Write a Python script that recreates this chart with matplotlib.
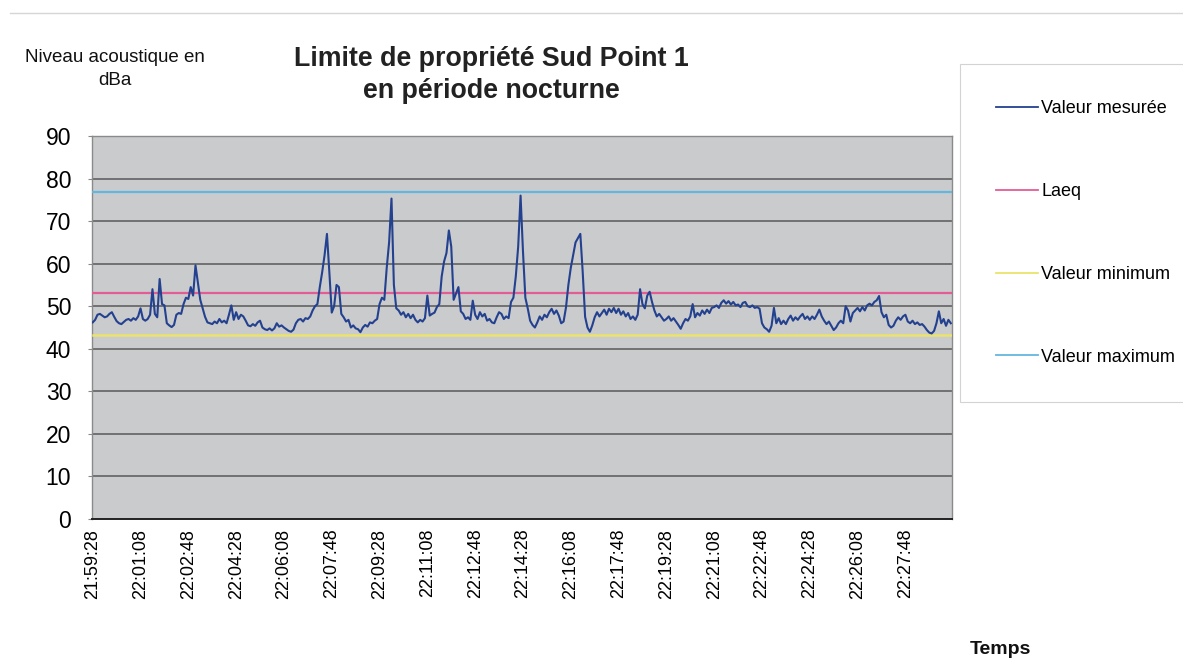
import matplotlib
matplotlib.use("Agg")
import matplotlib.pyplot as plt
import numpy as np
from matplotlib.lines import Line2D

plt.rcParams["font.family"] = ["Liberation Sans", "DejaVu Sans"]

# one reading every 5 s starting 21:59:28, one row = 100 s (one tick interval)
MEASURED = [
    46.2, 46.8, 48.0, 48.2, 47.8, 47.4, 47.6, 48.2, 48.6, 47.5, 46.5, 46.0, 45.8, 46.3, 46.8, 47.0, 46.6, 47.2, 46.8, 47.6,
    49.5, 47.0, 46.6, 47.0, 48.0, 54.0, 48.2, 47.4, 56.4, 50.5, 50.2, 46.0, 45.5, 45.1, 45.6, 48.0, 48.4, 48.2, 50.5, 52.0,
    51.7, 54.5, 52.5, 59.6, 55.5, 51.5, 49.5, 47.5, 46.2, 46.0, 45.8, 46.4, 46.0, 47.0, 46.2, 46.6, 46.0, 48.0, 50.2, 46.8,
    48.6, 47.0, 48.0, 47.6, 46.6, 45.5, 45.3, 45.8, 45.4, 46.2, 46.6, 45.0, 44.6, 44.4, 44.8, 44.3, 44.8, 46.0, 45.2, 45.5,
    45.0, 44.6, 44.2, 44.0, 44.5, 46.0, 46.8, 47.0, 46.4, 47.2, 47.0, 47.6, 49.0, 50.0, 50.5, 54.5, 58.0, 62.0, 67.0, 58.0,
    48.5, 50.0, 55.0, 54.5, 48.2, 47.4, 46.4, 46.8, 45.0, 45.5, 44.8, 44.6, 43.9, 45.0, 45.6, 45.2, 46.2, 46.0, 46.6, 47.0,
    50.5, 52.0, 51.5, 59.0, 65.0, 75.3, 55.0, 49.5, 49.0, 48.0, 48.6, 47.4, 48.2, 47.2, 48.0, 46.8, 46.2, 46.8, 46.4, 47.2,
    52.5, 47.8, 48.2, 48.5, 49.8, 50.5, 57.0, 60.5, 62.5, 67.8, 64.0, 51.5, 53.0, 54.5, 48.8, 48.2, 47.0, 47.4, 46.8, 51.3,
    48.0, 47.0, 48.6, 47.6, 48.2, 46.6, 47.0, 46.2, 46.0, 47.4, 48.6, 48.2, 47.0, 47.6, 47.2, 51.0, 52.0, 57.0, 64.0, 76.0,
    63.0, 52.0, 49.5, 46.6, 45.6, 45.0, 46.2, 47.6, 46.8, 48.0, 47.4, 48.6, 49.4, 48.2, 49.0, 47.8, 46.0, 46.4, 49.7, 55.0,
    59.0, 62.0, 65.0, 66.0, 67.0, 58.0, 47.5, 45.0, 44.0, 45.5, 47.4, 48.6, 47.6, 48.4, 49.2, 48.0, 49.4, 48.6, 49.6, 48.4,
    49.4, 48.0, 48.8, 47.6, 48.4, 47.0, 47.6, 46.8, 48.0, 54.0, 50.5, 49.5, 52.5, 53.4, 51.0, 49.0, 47.6, 48.2, 47.4, 46.6,
    47.0, 47.6, 46.6, 47.2, 46.4, 45.6, 44.7, 46.0, 47.0, 46.6, 47.6, 50.5, 47.4, 48.4, 47.8, 49.0, 48.2, 49.2, 48.4, 49.6,
    49.8, 50.2, 49.6, 50.8, 51.4, 50.6, 51.2, 50.4, 51.0, 50.2, 50.4, 49.8, 50.8, 51.0, 50.0, 49.8, 50.2, 49.6, 49.8, 49.4,
    46.0, 45.0, 44.6, 44.0, 45.4, 49.6, 46.0, 47.2, 45.8, 46.6, 45.8, 47.0, 47.8, 46.6, 47.4, 46.8, 47.6, 48.2, 47.0, 47.6,
    46.8, 47.6, 47.0, 48.0, 49.2, 47.6, 46.6, 45.8, 46.4, 45.4, 44.4, 45.0, 46.0, 46.6, 46.0, 50.0, 49.0, 46.4, 48.4, 49.0,
    49.6, 48.8, 49.8, 49.0, 50.2, 50.6, 50.2, 51.0, 51.4, 52.4, 48.6, 47.4, 48.0, 45.6, 45.0, 45.4, 46.6, 47.4, 46.8, 47.6,
    48.0, 46.4, 46.0, 46.6, 45.8, 46.2, 45.6, 45.8, 45.2, 44.4, 43.8, 43.6, 44.2, 46.0, 48.8, 46.0, 47.0, 45.4, 46.8, 46.0,
]
LAEQ = 53.1
MINIMUM = 43.3
MAXIMUM = 76.8

TICK_LABELS = [
    "21:59:28", "22:01:08", "22:02:48", "22:04:28", "22:06:08", "22:07:48",
    "22:09:28", "22:11:08", "22:12:48", "22:14:28", "22:16:08", "22:17:48",
    "22:19:28", "22:21:08", "22:22:48", "22:24:28", "22:26:08", "22:27:48",
]
TICK_EVERY = 20  # samples between two labels
Y_TICKS = [0, 10, 20, 30, 40, 50, 60, 70, 80, 90]

fig = plt.figure(figsize=(11.83, 6.64), dpi=100)
ax = fig.add_axes([92 / 1183, 1 - 519 / 664, 860 / 1183, 383 / 664])
ax.set_facecolor("#cacbcd")

x = np.arange(len(MEASURED))
n = len(MEASURED)

for yv in Y_TICKS[1:]:
    ax.axhline(yv, color="#6a6a6a", lw=1.3, zorder=1)

ax.plot(x, MEASURED, color="#23418f", lw=1.5, zorder=4, label="Valeur mesurée")
ax.plot([0, n - 1], [LAEQ, LAEQ], color="#e45c94", lw=1.6, zorder=3, label="Laeq")
ax.plot([0, n - 1], [MINIMUM, MINIMUM], color="#ebe36a", lw=1.8, zorder=3, label="Valeur minimum")
ax.plot([0, n - 1], [MAXIMUM, MAXIMUM], color="#63b6de", lw=1.6, zorder=3, label="Valeur maximum")

ax.set_xlim(-0.3, n - 0.5)
ax.set_ylim(0, 90)
ax.set_yticks(Y_TICKS)
ax.set_yticklabels([str(v) for v in Y_TICKS], fontsize=16.5)
ax.set_xticks(np.arange(len(TICK_LABELS)) * TICK_EVERY)
ax.set_xticklabels(TICK_LABELS, rotation=90, fontsize=13)
ax.tick_params(axis="y", length=3, color="#888888", pad=12)
ax.tick_params(axis="x", length=0, pad=7)

for side in ["top", "right", "left"]:
    ax.spines[side].set_color("#8a8a8a")
    ax.spines[side].set_linewidth(1.0)
ax.spines["bottom"].set_color("#222222")
ax.spines["bottom"].set_linewidth(1.4)

fig.text(491 / 1183, 1 - 75 / 664, "Limite de propriété Sud Point 1\nen période nocturne",
         ha="center", va="center", fontsize=19.3, fontweight="bold", linespacing=1.35, color="#222222")
fig.text(115 / 1183, 1 - 69 / 664, "Niveau acoustique en\ndBa", ha="center", va="center",
         fontsize=13.5, linespacing=1.45, color="#111111")
fig.text(1000 / 1183, 1 - 650 / 664, "Temps", ha="center", va="center",
         fontsize=14, fontweight="bold", color="#111111")

# faint border of the chart area (scan)
fig.add_artist(Line2D([10 / 1183, 1.0], [1 - 13 / 664, 1 - 13 / 664], transform=fig.transFigure,
                      color="#d6d6d6", lw=1.0))

leg = fig.legend(loc="upper left", bbox_to_anchor=(960 / 1183, 1 - 64 / 664), fontsize=13,
                 frameon=True, fancybox=False, edgecolor="#c8c8c8", borderpad=2.0,
                 labelspacing=3.65, handlelength=2.3, handletextpad=0.2, borderaxespad=0)
leg.get_frame().set_linewidth(0.8)
for line in leg.get_lines():
    line.set_linewidth(1.3)

fig.savefig("out.png", dpi=100)
